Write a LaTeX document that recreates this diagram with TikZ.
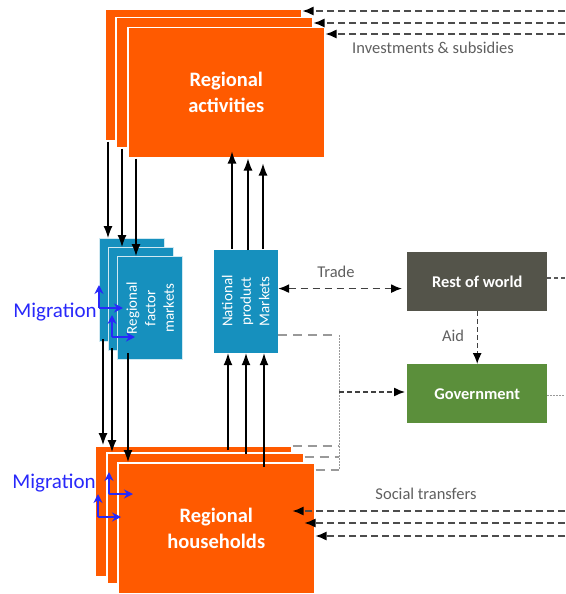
\documentclass[tikz,border=0pt]{standalone}
\usepackage{fontspec}
\setmainfont{Carlito}
\usetikzlibrary{arrows.meta,calc}
\definecolor{orng}{RGB}{255,90,0}
\definecolor{mblue}{RGB}{22,144,190}
\definecolor{rowc}{RGB}{84,84,74}
\definecolor{govc}{RGB}{91,143,59}
\definecolor{migb}{RGB}{40,40,250}
\definecolor{lbl}{RGB}{95,95,95}
\begin{document}
\begin{tikzpicture}[x=1pt,y=1pt,
  orbox/.style={draw=white, line width=1.5pt, fill=orng, anchor=north west, inner sep=0pt,
    minimum width=197pt, minimum height=131pt, text=white, align=center,
    font=\fontsize{20.5}{26}\selectfont\bfseries},
  blbox/.style={draw=white!80!mblue, line width=1.2pt, fill=mblue, anchor=north west, inner sep=0pt,
    minimum width=65pt, minimum height=103pt},
  rottext/.style={rotate=90, text=white, align=center, font=\fontsize{15}{18.5}\selectfont},
  sidebox/.style={anchor=north west, inner sep=0pt, minimum width=140pt, minimum height=59pt,
    text=white, font=\fontsize{16.4}{19}\selectfont\bfseries},
  lab/.style={text=lbl, font=\fontsize{16.5}{19}\selectfont},
  miglab/.style={text=migb, font=\fontsize{21}{24}\selectfont},
  arr/.style={line width=1.2pt, -{Latex[length=12pt,width=9pt]}},
  dasharr/.style={line width=1.4pt, draw=black!70, dash pattern=on 7pt off 4pt,
    -{Latex[length=11pt,width=9pt,color=black]}},
  sdasharr/.style={line width=1.4pt, draw=black!75, dash pattern=on 5pt off 3pt,
    -{Latex[length=11pt,width=9pt,color=black]}},
  ddasharr/.style={line width=1.4pt, draw=black!75, dash pattern=on 7pt off 5pt,
    {Latex[length=11pt,width=9pt,color=black]}-{Latex[length=11pt,width=9pt,color=black]}},
  gdash/.style={line width=1.2pt, draw=black!40, dash pattern=on 9pt off 6pt},
  gdot/.style={line width=1pt, draw=black!40, dash pattern=on 1.5pt off 1.5pt},
  sdash/.style={line width=1.3pt, draw=black!65, dash pattern=on 4pt off 3pt},
  blarr/.style={line width=1.8pt, draw=migb, -{Stealth[length=9pt,width=9pt]}}
]
\useasboundingbox (0,0) rectangle (565,-594);

% Regional activities
\node[orbox] (a1) at (104,-9) {};
\node[orbox, minimum height=130pt] (a2) at (115,-17) {};
\node[orbox, minimum height=130pt] (a3) at (127,-27) {Regional\\activities};

% Regional factor markets
\node[blbox] (f1) at (99,-238) {};
\node[blbox] (f2) at (108,-247) {};
\node[blbox] (f3) at (117,-256) {};
\node[rottext] (f3t) at (f3.center) {Regional\\factor\\markets};

% National product markets
\node[blbox, draw=none, minimum width=64pt] (npm) at (213,-249) {};
\node[rottext] (npmt) at (npm.center) {National\\product\\Markets};

% Rest of world, Government
\node[sidebox, fill=rowc] (row) at (407,-252) {Rest of world};
\node[sidebox, fill=govc] (gov) at (407,-364) {Government};

% Regional households
\node[orbox] (h1) at (94,-445) {};
\node[orbox] (h2) at (106,-452) {};
\node[orbox] (h3) at (117,-462) {Regional\\households};

% activities -> factor markets
\draw[arr] ([xshift=4pt]a1.south west) -- ([xshift=9pt]f1.north west);
\draw[arr] ([xshift=7pt]a2.south west) -- ([xshift=14pt]f2.north west);
\draw[arr] ([xshift=9pt]a3.south west) -- ([xshift=19pt]f3.north west);

% factor markets -> households
\draw[arr] ([xshift=4pt,yshift=3pt]f1.south west) -- ([xshift=9pt]h1.north west);
\draw[arr] ([xshift=4pt,yshift=3pt]f2.south west) -- ([xshift=6pt]h2.north west);
\draw[arr] ([xshift=11pt,yshift=7pt]f3.south west) -- ([xshift=11pt]h3.north west);

% households -> product markets
\draw[arr] ([xshift=134pt,yshift=-5pt]h1.north west) -- ([xshift=15pt]npm.south west);
\draw[arr] ([xshift=140pt,yshift=-2pt]h2.north west) -- ([xshift=33pt]npm.south west);
\draw[arr] ([xshift=147pt,yshift=-5pt]h3.north west) -- ([xshift=51pt]npm.south west);

% product markets -> activities
\draw[arr] ([xshift=19pt]npm.north west) -- ([xshift=105pt,yshift=7pt]a3.south west);
\draw[arr] ([xshift=35pt,yshift=-1pt]npm.north west) -- ([xshift=121pt]a3.south west);
\draw[arr] ([xshift=50pt]npm.north west) -- ([xshift=136pt,yshift=-5pt]a3.south west);

% investments & subsidies
\coordinate (i1) at (565,-11);
\coordinate (i2) at (565,-23);
\coordinate (i3) at (565,-34);
\draw[dasharr] (i1) -- (i1 -| a1.east);
\draw[dasharr] (i2) -- (i2 -| a2.east);
\draw[dasharr] (i3) -- (i3 -| a3.east);
\node[lab] (inv) at (433,-48) {Investments \& subsidies};

% social transfers
\coordinate (s1) at (565,-511);
\coordinate (s2) at (565,-523);
\coordinate (s3) at (565,-536);
\draw[dasharr] (s1) -- (s1 -| h1.east);
\draw[dasharr] (s2) -- (s2 -| h2.east);
\draw[dasharr] (s3) -- (s3 -| h3.east);
\node[lab] (soc) at (426,-494) {Social transfers};

% trade
\coordinate (t1) at ([yshift=12.5pt]npm.east);
\draw[ddasharr, shorten >=5pt] (t1) -- (t1 -| row.west);
\node[lab] (trade) at (336,-272) {Trade};

% aid
\draw[sdasharr] (row.south) -- (gov.north);
\node[lab] (aid) at (453,-336) {Aid};

% grey collection lines to government
\coordinate (g0) at (339,-335);
\coordinate (g1) at (339,-446);
\coordinate (g2) at (339,-457);
\coordinate (g3) at (339,-470);
\coordinate (g4) at (339,-392);
\draw[gdash] (g0 -| npm.east) -- ([xshift=-7pt]g0);
\draw[gdot] (g0) -- (g3);
\draw[gdash] (g1 -| h1.east) -- (g1);
\draw[gdash] (g2 -| h2.east) -- (g2);
\draw[gdash] (g3 -| h3.east) -- (g3);
\draw[sdasharr, shorten >=2pt] (g4) -- (g4 -| gov.west);

% right stubs
\coordinate (r1) at (565,-278);
\coordinate (r2) at (565,-395);
\draw[sdash] (r1 -| row.east) -- (r1);
\draw[gdot] (r2 -| gov.east) -- (r2);

% migration
\node[miglab] (mig1) at (55,-312) {Migration};
\node[miglab] (mig2) at (54,-483) {Migration};
\coordinate (m1) at (99,-308);
\coordinate (m2) at (112,-337);
\coordinate (m3) at (98,-517);
\coordinate (m4) at (109,-494);
\draw[blarr] (m1) -- ++(0,23);
\draw[blarr] (m1) -- ++(24,0);
\draw[blarr] (m2) -- ++(0,22);
\draw[blarr] (m2) -- ++(23,0);
\draw[blarr] (m3) -- ++(0,23);
\draw[blarr] (m3) -- ++(23,0);
\draw[blarr] (m4) -- ++(0,22);
\draw[blarr] (m4) -- ++(24,0);
\end{tikzpicture}
\end{document}
